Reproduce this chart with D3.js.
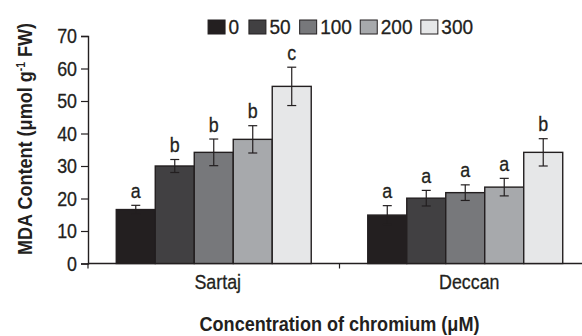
<!DOCTYPE html>
<html>
<head>
<meta charset="utf-8">
<script src="https://cdn.jsdelivr.net/npm/d3@7"></script>
<style>
  html, body { margin: 0; padding: 0; background: #fff; }
  svg { display: block; }
  text { font-family: "Liberation Sans", Arial, sans-serif; fill: #231f20; }
  text.reg { stroke: #231f20; stroke-width: 0.3px; }
</style>
</head>
<body>
<svg id="chart" width="582" height="336"></svg>
<script>
// Cultivars and chromium treatments (µM)
const cultivars = ["Sartaj", "Deccan"];
const treatments = ["0", "50", "100", "200", "300"];

// MDA content means and standard errors per cultivar, one entry per treatment
const sartajMeans = [16.6, 30.0, 34.2, 38.2, 54.5];
const sartajErrors = [1.3, 2.0, 4.1, 4.2, 5.9];
const sartajLetters = ["a", "b", "b", "b", "c"];

const deccanMeans = [14.9, 20.1, 21.8, 23.5, 34.2];
const deccanErrors = [2.9, 2.4, 2.4, 2.7, 4.2];
const deccanLetters = ["a", "a", "a", "a", "b"];

const yTicks = [0, 10, 20, 30, 40, 50, 60, 70];
const barColors = ["#231f20", "#414042", "#77787b", "#a7a9ac", "#e6e7e8"];

const groups = [
  { cultivar: "Sartaj", means: sartajMeans, errors: sartajErrors, letters: sartajLetters },
  { cultivar: "Deccan", means: deccanMeans, errors: deccanErrors, letters: deccanLetters }
];

const svg = d3.select("#chart");
const ink = "#231f20";
const fontSize = 20.5;
const narrow = 0.87;      // horizontal squeeze giving a condensed look
const narrowLegend = 0.93;
const narrowBold = 0.86;
const margin = { top: 36, left: 88, bottomAxis: 263.5, right: 591 };

// Squeeze a text element horizontally to a condensed width
function condense(sel, k) {
  sel.each(function () {
    const len = this.getComputedTextLength();
    d3.select(this).attr("textLength", len * k).attr("lengthAdjust", "spacingAndGlyphs");
  });
}

const x0 = d3.scaleBand().domain(cultivars).range([margin.left, margin.right]).padding(0);
const x1 = d3.scaleBand().domain(treatments).range([0, x0.bandwidth()])
  .paddingInner(0).paddingOuter(0.725);
const y = d3.scaleLinear().domain([0, 70]).range([margin.bottomAxis, margin.top]);
const color = d3.scaleOrdinal().domain(treatments).range(barColors);

// Y axis
const yAxis = svg.append("g")
  .attr("transform", `translate(${margin.left},0)`)
  .call(d3.axisLeft(y).tickValues(yTicks).tickSize(7).tickPadding(4));
yAxis.select(".domain").attr("stroke", ink).attr("stroke-width", 1.4);
yAxis.selectAll(".tick line").attr("stroke", ink).attr("stroke-width", 1.2);
yAxis.selectAll(".tick text").attr("class", "reg").attr("font-size", fontSize).attr("fill", ink)
  .attr("dy", "0.34em")
  .style("font-family", '"Liberation Sans", Arial, sans-serif')
  .call(condense, narrow);

// X axis: ticks at group boundaries, labels under the group centres
const boundaries = [x0(cultivars[0]), x0(cultivars[1])];
svg.append("line")
  .attr("x1", margin.left).attr("x2", 582)
  .attr("y1", y(0)).attr("y2", y(0))
  .attr("stroke", ink).attr("stroke-width", 1.4);
svg.selectAll("line.xtick").data(boundaries).join("line")
  .attr("class", "xtick")
  .attr("x1", d => d).attr("x2", d => d)
  .attr("y1", y(0)).attr("y2", y(0) + 5)
  .attr("stroke", ink).attr("stroke-width", 1.2);
svg.selectAll("text.cat").data(cultivars).join("text")
  .attr("class", "cat reg")
  .attr("x", d => x0(d) + x0.bandwidth() / 2 + 4)
  .attr("y", y(0) + 25)
  .attr("text-anchor", "middle")
  .attr("font-size", fontSize)
  .text(d => d)
  .call(condense, narrow);

// Bars, error bars and significance letters
const g = svg.selectAll("g.group").data(groups).join("g")
  .attr("class", "group")
  .attr("transform", d => `translate(${x0(d.cultivar)},0)`);

const cells = g.selectAll("g.cell")
  .data(d => treatments.map((t, i) => ({ t, v: d.means[i], e: d.errors[i], l: d.letters[i] })))
  .join("g").attr("class", "cell");

cells.append("rect")
  .attr("x", d => x1(d.t))
  .attr("y", d => y(d.v))
  .attr("width", x1.bandwidth())
  .attr("height", d => y(0) - y(d.v))
  .attr("fill", d => color(d.t))
  .attr("stroke", ink)
  .attr("stroke-width", 1.4);

const cx = d => x1(d.t) + x1.bandwidth() / 2;
cells.append("line")
  .attr("x1", cx).attr("x2", cx)
  .attr("y1", d => y(d.v + d.e)).attr("y2", d => y(d.v - d.e))
  .attr("stroke", ink).attr("stroke-width", 1.2);
cells.append("line")
  .attr("x1", d => cx(d) - 4.5).attr("x2", d => cx(d) + 4.5)
  .attr("y1", d => y(d.v + d.e)).attr("y2", d => y(d.v + d.e))
  .attr("stroke", ink).attr("stroke-width", 1.2);
cells.append("line")
  .attr("x1", d => cx(d) - 4.5).attr("x2", d => cx(d) + 4.5)
  .attr("y1", d => y(d.v - d.e)).attr("y2", d => y(d.v - d.e))
  .attr("stroke", ink).attr("stroke-width", 1.2);
cells.append("text")
  .attr("class", "reg")
  .attr("x", cx)
  .attr("y", d => y(d.v + d.e) - 7.5)
  .attr("text-anchor", "middle")
  .attr("font-size", fontSize)
  .text(d => d.l)
  .call(condense, narrow);

// Legend, centred over the plot
const legend = svg.append("g").attr("class", "legend");
const items = legend.selectAll("g").data(treatments).join("g");
items.append("rect")
  .attr("width", 17).attr("height", 14)
  .attr("y", 20)
  .attr("fill", d => color(d))
  .attr("stroke", ink).attr("stroke-width", 1);
items.append("text")
  .attr("class", "reg")
  .attr("x", 20.5).attr("y", 34.3)
  .attr("font-size", fontSize)
  .text(d => d)
  .call(condense, narrowLegend);
let offset = 0;
const legendGap = 10.5;
items.each(function () {
  const item = d3.select(this);
  item.attr("transform", `translate(${offset},0)`);
  offset += 20.5 + item.select("text").node().getComputedTextLength() * narrowLegend + legendGap;
});
const legendWidth = offset - legendGap;
const centre = (margin.left + margin.right) / 2;
legend.attr("transform", `translate(${centre - legendWidth / 2},0)`);

// Axis titles
svg.append("text")
  .attr("x", centre)
  .attr("y", 330.5)
  .attr("text-anchor", "middle")
  .attr("font-size", 21)
  .attr("font-weight", "bold")
  .text("Concentration of chromium (μM)")
  .call(condense, narrowBold);

const yTitleGroup = svg.append("g")
  .attr("transform", `translate(31.5,139) rotate(-90) scale(${narrowBold},1)`);
const yTitle = yTitleGroup.append("text")
  .attr("text-anchor", "middle")
  .attr("font-size", 21)
  .attr("font-weight", "bold");
yTitle.append("tspan").text("MDA Content (μmol g");
yTitle.append("tspan").attr("dy", -7).attr("font-size", 12).text("-1");
yTitle.append("tspan").attr("dy", 7).text(" FW)");
</script>
</body>
</html>
